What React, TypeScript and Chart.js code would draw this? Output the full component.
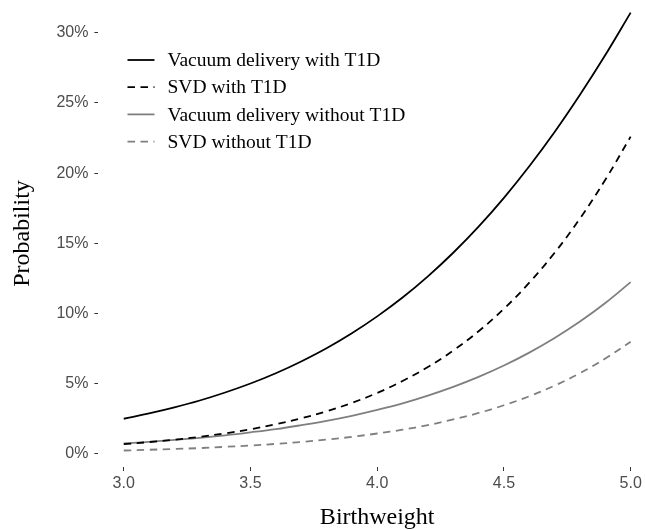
import React, { useEffect, useRef } from 'react';
import { Chart, registerables } from 'chart.js';

Chart.register(...registerables);

// Birthweight (kg) grid
const birthweight = [3.0, 3.1, 3.2, 3.3, 3.4, 3.5, 3.6, 3.7, 3.8, 3.9, 4.0, 4.1, 4.2, 4.3, 4.4, 4.5, 4.6, 4.7, 4.8, 4.9, 5.0];
const xTicks = [3.0, 3.5, 4.0, 4.5, 5.0];
const yTicks = [0, 5, 10, 15, 20, 25, 30];

const seriesLabels = [
  'Vacuum delivery with T1D',
  'SVD with T1D',
  'Vacuum delivery without T1D',
  'SVD without T1D',
];

// Probability (%)
const vacuumWithT1D = [2.51, 2.89, 3.32, 3.81, 4.38, 5.02, 5.75, 6.59, 7.53, 8.6, 9.8, 11.14, 12.65, 14.33, 16.19, 18.24, 20.49, 22.93, 25.58, 28.41, 31.43];
const svdWithT1D = [0.7, 0.85, 1.02, 1.22, 1.47, 1.76, 2.12, 2.54, 3.04, 3.64, 4.35, 5.2, 6.19, 7.37, 8.74, 10.34, 12.2, 14.33, 16.77, 19.53, 22.6];
const vacuumWithoutT1D = [0.75, 0.86, 1.0, 1.15, 1.33, 1.54, 1.77, 2.05, 2.36, 2.72, 3.14, 3.61, 4.16, 4.78, 5.49, 6.3, 7.22, 8.26, 9.43, 10.75, 12.24];
const svdWithoutT1D = [0.25, 0.3, 0.36, 0.42, 0.51, 0.6, 0.72, 0.86, 1.03, 1.22, 1.46, 1.73, 2.06, 2.46, 2.92, 3.47, 4.11, 4.87, 5.76, 6.8, 8.0];

const seriesValues = [vacuumWithT1D, svdWithT1D, vacuumWithoutT1D, svdWithoutT1D];
const seriesColors = ['#000000', '#000000', '#7f7f7f', '#7f7f7f'];
const seriesDashes: number[][] = [[], [7.5, 5.5], [], [7.5, 5.5]];

const LEGEND_X = 127.5;
const LEGEND_Y = 60;
const LEGEND_ROW = 27.2;

const insideLegend = {
  id: 'insideLegend',
  afterDatasetsDraw(chart: any) {
    const ctx = chart.ctx as CanvasRenderingContext2D;
    chart.data.datasets.forEach((ds: any, i: number) => {
      const y = LEGEND_Y + i * LEGEND_ROW;
      ctx.save();
      ctx.strokeStyle = ds.borderColor;
      ctx.lineWidth = ds.borderWidth;
      ctx.setLineDash(ds.borderDash || []);
      ctx.beginPath();
      ctx.moveTo(LEGEND_X, y);
      ctx.lineTo(LEGEND_X + 27, y);
      ctx.stroke();
      ctx.setLineDash([]);
      ctx.fillStyle = '#000000';
      ctx.font = "19.5px 'Liberation Serif', 'Times New Roman', serif";
      ctx.textBaseline = 'middle';
      ctx.textAlign = 'left';
      ctx.fillText(ds.label, LEGEND_X + 40, y + 1);
      ctx.restore();
    });
  },
};

export default function App() {
  const ref = useRef<HTMLCanvasElement>(null);

  useEffect(() => {
    document.body.style.margin = '0';
    const canvas = ref.current;
    if (!canvas) return;

    const datasets = seriesLabels.map((label, i) => ({
      label,
      data: birthweight.map((x, j) => ({ x, y: seriesValues[i][j] })),
      borderColor: seriesColors[i],
      backgroundColor: seriesColors[i],
      borderDash: seriesDashes[i],
      borderWidth: 1.8,
      pointRadius: 0,
      fill: false,
      tension: 0.4,
    }));

    const tickFont = { family: "'Liberation Sans', Arial, sans-serif", size: 16 };
    const titleFont = { family: "'Liberation Serif', 'Times New Roman', serif", size: 24, lineHeight: 1.0 };

    const chart = new Chart(canvas, {
      type: 'line',
      data: { datasets },
      options: {
        responsive: false,
        animation: false,
        devicePixelRatio: 1,
        layout: { padding: 0 },
        plugins: {
          legend: { display: false },
          tooltip: { enabled: false },
        },
        scales: {
          x: {
            type: 'linear',
            min: 2.9,
            max: 5.1,
            afterBuildTicks: (s: any) => {
              s.ticks = xTicks.map((v) => ({ value: v }));
            },
            afterFit: (s: any) => {
              s.height = 63;
              s.paddingLeft = 0;
              s.paddingRight = 0;
            },
            ticks: {
              callback: (v: any) => Number(v).toFixed(1),
              color: '#4d4d4d',
              font: tickFont,
              padding: 3,
              maxRotation: 0,
              autoSkip: false,
            },
            grid: {
              display: true,
              drawOnChartArea: false,
              drawTicks: true,
              tickLength: 4,
              tickColor: '#333333',
              tickWidth: 1,
            },
            border: { display: false },
            title: {
              display: true,
              text: 'Birthweight',
              color: '#000000',
              font: titleFont,
              padding: { top: 0, bottom: 0 },
            },
          },
          y: {
            type: 'linear',
            min: -0.926,
            max: 32.33,
            afterBuildTicks: (s: any) => {
              s.ticks = yTicks.map((v) => ({ value: v }));
            },
            afterFit: (s: any) => {
              s.width = 98.4;
              s.paddingTop = 0;
              s.paddingBottom = 0;
            },
            ticks: {
              callback: (v: any) => `${v}%`,
              color: '#4d4d4d',
              font: tickFont,
              padding: 6,
              autoSkip: false,
            },
            grid: {
              display: true,
              drawOnChartArea: false,
              drawTicks: true,
              tickLength: 4,
              tickColor: '#333333',
              tickWidth: 1,
            },
            border: { display: false },
            title: {
              display: true,
              text: 'Probability',
              color: '#000000',
              font: titleFont,
              padding: { top: 11, bottom: 0 },
            },
          },
        },
      },
      plugins: [insideLegend],
    });

    return () => chart.destroy();
  }, []);

  return (
    <div style={{ position: 'fixed', left: 0, top: 0, width: 645, height: 530, overflow: 'hidden', background: '#ffffff' }}>
      <canvas ref={ref} width={656} height={530} style={{ display: 'block' }} />
    </div>
  );
}
